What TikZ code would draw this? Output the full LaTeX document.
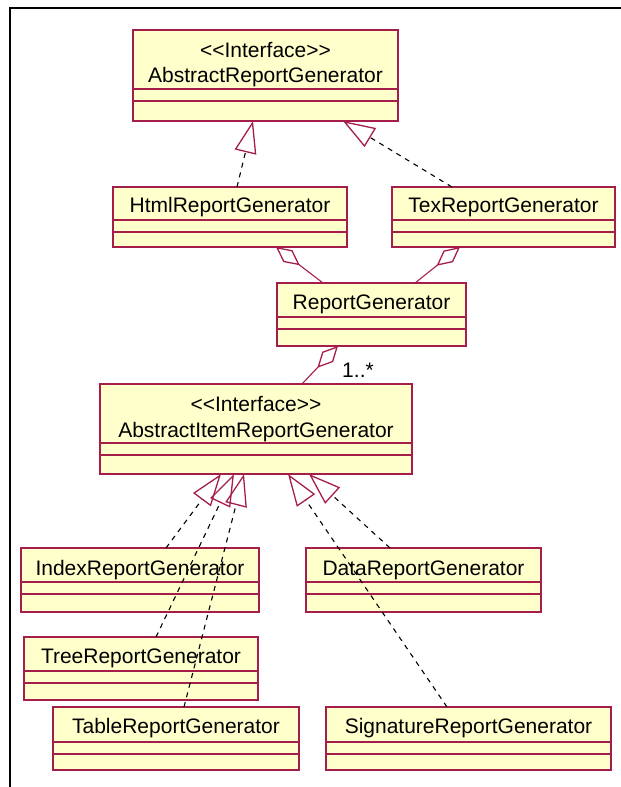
\documentclass[tikz,border=0pt]{standalone}
\usepackage{fontspec}
\newfontfamily\umlfont{Liberation Sans}
\usetikzlibrary{arrows.meta}

\definecolor{umlred}{RGB}{165,30,75}
\definecolor{umlfill}{RGB}{255,255,204}

% class box: name, x1, y1, x2, y2, first and second compartment lines
\newcommand\umlclass[7]{%
  \node[classbox, minimum width={#4-#2}, minimum height={#5-#3}]
    (#1) at ({(#2+#4)/2},{(#3+#5)/2}) {};
  \draw[classline] (#1.west |- 0,#6) -- (#1.east |- 0,#6);
  \draw[classline] (#1.west |- 0,#7) -- (#1.east |- 0,#7);
}

\begin{document}
\begin{tikzpicture}[x=1pt, y=-1pt,
  classbox/.style={draw=umlred, fill=umlfill, line width=1.6pt,
    rectangle, inner sep=0pt, outer sep=0pt},
  classline/.style={draw=umlred, line width=1.6pt},
  title/.style={anchor=base, inner sep=0pt,
    font=\umlfont\fontsize{21}{25}\selectfont, text=black},
  realize/.style={draw=black, line width=1.1pt, dash pattern=on 5pt off 5pt,
    -{Triangle[open, length=32pt, width=22pt, color=umlred, line width=1.3pt]}},
  agg/.style={draw=umlred, line width=1.1pt,
    -{Diamond[open, length=30pt, width=15pt, line width=1.3pt]}}]

\useasboundingbox (0,0) rectangle (621,787);

% frame
\draw[line width=2.5pt, black] (10,787) -- (10,8) -- (621,8);

% classes
\umlclass{arg}{133}{30}{398}{121}{89}{101}
\node[title] at (265.5,57) {<\kern0pt<Interface>\kern0pt>};
\node[title] at (265.5,82) {AbstractReportGenerator};

\umlclass{html}{113}{187}{347}{247}{220}{232}
\node[title] at (230,212) {HtmlReportGenerator};

\umlclass{tex}{392}{187}{615}{247}{220}{232}
\node[title] at (503.5,212) {TexReportGenerator};

\umlclass{rg}{277}{283}{466}{346}{317}{329}
\node[title] at (371.5,309) {ReportGenerator};

\umlclass{airg}{100}{384}{412}{474}{443}{455}
\node[title] at (256,411) {<\kern0pt<Interface>\kern0pt>};
\node[title] at (256,437) {AbstractItemReportGenerator};

\umlclass{index}{21}{548}{259}{612}{582}{594}
\node[title] at (140,575) {IndexReportGenerator};

\umlclass{data}{306}{548}{541}{612}{582}{594}
\node[title] at (423.5,575) {DataReportGenerator};

\umlclass{tree}{24}{637}{258}{700}{671}{683}
\node[title] at (141,663) {TreeReportGenerator};

\umlclass{table}{53}{707}{299}{770}{742}{754}
\node[title] at (176,733) {TableReportGenerator};

\umlclass{sig}{326}{707}{611}{770}{742}{754}
\node[title] at (468.5,733) {SignatureReportGenerator};

% realizations
\draw[realize] ([xshift=124pt]html.north west) -- ([xshift=120pt]arg.south west);
\draw[realize] ([xshift=60pt]tex.north west) -- ([xshift=210pt]arg.south west);
\draw[realize] ([xshift=145pt]index.north west) -- ([xshift=121pt]airg.south west);
\draw[realize] ([xshift=132pt]tree.north west) -- ([xshift=134pt]airg.south west);
\draw[realize] ([xshift=131pt]table.north west) -- ([xshift=144pt]airg.south west);
\draw[realize] ([xshift=84pt]data.north west) -- ([xshift=209pt]airg.south west);
\draw[realize] ([xshift=121pt]sig.north west) -- ([xshift=188pt]airg.south west);

% aggregations
\draw[agg] ([xshift=46pt]rg.north west) -- ([xshift=163pt]html.south west);
\draw[agg] ([xshift=138pt]rg.north west) -- ([xshift=68pt]tex.south west);
\draw[agg] ([xshift=202pt]airg.north west) -- ([xshift=61pt]rg.south west);
\node[title] (mult) at (358,377) {1..*};

\end{tikzpicture}
\end{document}
